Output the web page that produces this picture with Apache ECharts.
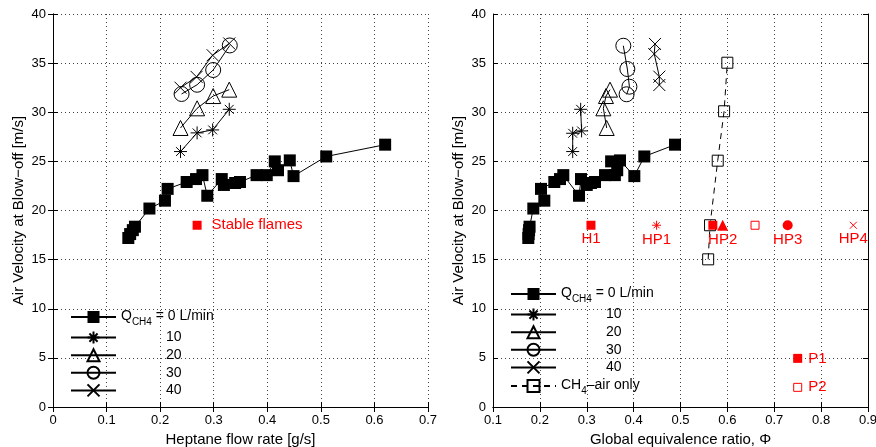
<!DOCTYPE html>
<html>
<head>
<meta charset="utf-8">
<script src="https://cdn.jsdelivr.net/npm/echarts@6/dist/echarts.min.js"></script>
<style>html,body{margin:0;padding:0;background:#fff}#c{width:876px;height:447px}</style>
</head>
<body>
<div id="c"></div>
<script>
// ---------- data ----------
// Left panel: heptane flow rate [g/s]; right panel: global equivalence ratio
const velQ0 = [17.2,17.6,18.0,18.35,20.2,21.0,22.2,22.9,23.2,23.6,21.5,23.2,22.6,22.8,22.9,23.6,23.6,25.0,24.1,25.1,23.5,25.5,26.7];
const heptQ0 = [0.1406,0.144,0.149,0.153,0.18,0.209,0.214,0.2495,0.267,0.279,0.288,0.315,0.319,0.34,0.349,0.38,0.399,0.414,0.42,0.442,0.449,0.51,0.62];
const phiQ0 = [0.1753,0.176,0.177,0.178,0.186,0.2095,0.2024,0.2308,0.243,0.25,0.2835,0.2877,0.300,0.309,0.3176,0.339,0.36,0.352,0.365,0.371,0.4015,0.4228,0.4883];

const heptQ10 = [0.238,0.269,0.298,0.329];
const velQ10L = [26.0,27.9,28.2,30.3];
const phiQ10 = [0.27,0.27,0.289,0.287];
const velQ10R = [26.0,27.86,28.1,30.3];

const heptQ20 = [0.238,0.269,0.299,0.329];
const velQ20 = [28.4,30.4,31.65,32.3];
const phiQ20 = [0.3425,0.3354,0.341,0.3496];

const heptQ30 = [0.24,0.269,0.299,0.33];
const velQ30L = [31.86,32.8,34.3,36.8];
const phiQ30 = [0.385,0.391,0.3866,0.378];
const velQ30R = [31.83,32.6,34.4,36.77];

const heptQ40 = [0.238,0.268,0.298,0.329];
const velQ40L = [32.5,33.6,35.8,37.0];
const phiQ40 = [0.4548,0.4548,0.444,0.4456];
const velQ40R = [32.77,33.62,35.93,36.95];

const phiCH4 = [0.559,0.563,0.5794,0.593,0.5999];
const velCH4 = [15.03,18.5,25.07,30.1,35.04];

const stableHept = [0.269];
const stableVel = [18.5];
const stableText = ['Stable flames'];

const markPhi = [0.309,0.449,0.569,0.59,0.659,0.7286,0.8687,0.75,0.75];
const markVel = [18.5,18.5,18.5,18.5,18.5,18.5,18.5,4.95,2.0];
const markNames = ['H1','HP1','','HP2','','HP3','HP4','P1','P2'];

const legendLabels = ['Q_CH4 = 0 L/min','10','20','30','40','CH4–air only'];

const leftTicksX = [0,0.1,0.2,0.3,0.4,0.5,0.6,0.7];
const rightTicksX = [0.1,0.2,0.3,0.4,0.5,0.6,0.7,0.8,0.9];
const ticksY = [0,5,10,15,20,25,30,35,40];

// ---------- styles ----------
const FONT = 'Liberation Sans, Arial, Helvetica, sans-serif';
const ASTER = 'path://M0,5L10,5M5,0L5,10M1.6,1.6L8.4,8.4M1.6,8.4L8.4,1.6';
const CROSS = 'path://M0,0L10,10M0,10L10,0';
const RED = '#ff0000';
const zip = (xs, ys) => xs.map((x, i) => [x, ys[i]]);

const openStyle = {color: 'rgba(0,0,0,0)', borderColor: '#000', borderWidth: 1};
const strokeStyle = {color: 'rgba(0,0,0,0)', borderColor: '#000', borderWidth: 1};
function lineSeries(name, idx, data, symbol, size, itemStyle, dashed) {
  return {
    name, type: 'line', xAxisIndex: idx, yAxisIndex: idx, data,
    symbol, symbolSize: size, showSymbol: true, showAllSymbol: true,
    itemStyle, lineStyle: {color: '#000', width: 1, type: dashed ? [6, 5] : 'solid'},
    emphasis: {disabled: true}, z: 3
  };
}

const gridL = {left: 53, top: 14, width: 375, height: 393, containLabel: false, outerBoundsMode: 'none'};
const gridR = {left: 493, top: 14, width: 375, height: 393, containLabel: false, outerBoundsMode: 'none'};

function xAxisBottom(gi, min, max, name, ticks) {
  return {
    type: 'value', gridIndex: gi, min, max, interval: 0.1, position: 'bottom',
    name, nameLocation: 'middle', nameGap: 22,
    nameTextStyle: {fontFamily: FONT, fontSize: 15, color: '#000'},
    axisLine: {show: true, lineStyle: {color: '#000', width: 1}},
    axisTick: {show: true, inside: true, length: 5, lineStyle: {color: '#000'}},
    axisLabel: {margin: 7, fontFamily: FONT, fontSize: 13, color: '#000',
      formatter: v => { const t = ticks.find(k => Math.abs(k - v) < 1e-6); return t === undefined ? '' : (t === 0 ? '0' : t.toFixed(1)); }},
    splitLine: {show: true, lineStyle: {color: '#444', width: 1, type: [1, 3]}}
  };
}
function xAxisTop(gi, min, max) {
  return {
    type: 'value', gridIndex: gi, min, max, interval: 0.1, position: 'top',
    axisLine: {show: true, lineStyle: {color: '#000', width: 1}},
    axisTick: {show: true, inside: true, length: 5, lineStyle: {color: '#000'}},
    axisLabel: {show: false}, splitLine: {show: false}
  };
}
function yAxisLeft(gi) {
  return {
    type: 'value', gridIndex: gi, min: 0, max: 40, interval: 5, position: 'left',
    name: 'Air Velocity at Blow−off [m/s]', nameLocation: 'middle', nameGap: 27, nameRotate: 90,
    nameTextStyle: {fontFamily: FONT, fontSize: 15, color: '#000'},
    axisLine: {show: true, lineStyle: {color: '#000', width: 1}},
    axisTick: {show: true, inside: true, length: 5, lineStyle: {color: '#000'}},
    axisLabel: {margin: 7, fontFamily: FONT, fontSize: 13, color: '#000',
      formatter: v => ticksY.includes(v) ? String(v) : ''},
    splitLine: {show: true, lineStyle: {color: '#444', width: 1, type: [1, 3]}}
  };
}
function yAxisRight(gi) {
  return {
    type: 'value', gridIndex: gi, min: 0, max: 40, interval: 5, position: 'right',
    axisLine: {show: true, lineStyle: {color: '#000', width: 1}},
    axisTick: {show: true, inside: true, length: 5, lineStyle: {color: '#000'}},
    axisLabel: {show: false}, splitLine: {show: false}
  };
}

const rich = {
  a: {fontFamily: FONT, fontSize: 14, color: '#000', lineHeight: 16, verticalAlign: 'top'},
  s: {fontFamily: FONT, fontSize: 10, color: '#000', lineHeight: 11, padding: [8, 0, 0, 0], verticalAlign: 'top'},
  n: {fontFamily: FONT, fontSize: 14, color: '#000', lineHeight: 16, padding: [0, 0, 0, 45]}
};
function legendFmt(name) {
  const key = name.slice(1);
  if (key === '0') return '{a|Q}{s|CH4}{a| = 0 L/min}';
  if (key === 'CH4') return '{a|CH}{s|4}{a|–air only}';
  const i = ['10','20','30','40'].indexOf(key);
  return '{n|' + legendLabels[i + 1] + '}';
}

const series = [
  lineSeries('L0', 0, zip(heptQ0, velQ0), 'rect', 12, {color: '#000'}),
  lineSeries('L10', 0, zip(heptQ10, velQ10L), ASTER, 13, strokeStyle),
  lineSeries('L20', 0, zip(heptQ20, velQ20), 'triangle', 15, openStyle),
  lineSeries('L30', 0, zip(heptQ30, velQ30L), 'circle', 15, openStyle),
  lineSeries('L40', 0, zip(heptQ40, velQ40L), CROSS, 12, strokeStyle),
  lineSeries('R0', 1, zip(phiQ0, velQ0), 'rect', 12, {color: '#000'}),
  lineSeries('R10', 1, zip(phiQ10, velQ10R), ASTER, 13, strokeStyle),
  lineSeries('R20', 1, zip(phiQ20, velQ20), 'triangle', 15, openStyle),
  lineSeries('R30', 1, zip(phiQ30, velQ30R), 'circle', 15, openStyle),
  lineSeries('R40', 1, zip(phiQ40, velQ40R), CROSS, 12, strokeStyle),
  lineSeries('RCH4', 1, zip(phiCH4, velCH4), 'rect', 11, openStyle, true),
  {
    name: 'stable', type: 'scatter', xAxisIndex: 0, yAxisIndex: 0,
    data: stableHept.map((x, i) => ({value: [x, stableVel[i]], name: stableText[i]})),
    symbol: 'rect', symbolSize: 9, itemStyle: {color: RED, opacity: 1},
    label: {show: true, position: 'right', distance: 10, formatter: p => p.name,
      fontFamily: FONT, fontSize: 15, color: RED, opacity: 1},
    emphasis: {disabled: true}, z: 4
  }
];

// red operating-point markers (styles kept here, values in arrays above)
const markSymbols = ['rect', ASTER, 'rect', 'triangle', 'rect', 'circle', CROSS, 'rect', 'rect'];
const markSizes = [9, 9, 9, 11, 8, 10, 7, 9, 8];
const markFilled = [true, false, true, true, false, true, false, true, false];
const markLabelPos = ['bottom','bottom','bottom','bottom','bottom','bottom','bottom','right','right'];
series.push({
  name: 'marks', type: 'scatter', xAxisIndex: 1, yAxisIndex: 1,
  data: markPhi.map((x, i) => ({
    value: [x, markVel[i]], name: markNames[i],
    symbol: markSymbols[i], symbolSize: markSizes[i],
    itemStyle: markFilled[i] ? {color: RED, opacity: 1} : {color: 'rgba(0,0,0,0)', borderColor: RED, borderWidth: 1, opacity: 1},
    label: {position: markLabelPos[i], distance: markLabelPos[i] === 'right' ? 6 : 2}
  })),
  label: {show: true, formatter: p => p.name, fontFamily: FONT, fontSize: 15, color: RED, opacity: 1},
  emphasis: {disabled: true}, z: 4
});

const chart = echarts.init(document.getElementById('c'), null, {renderer: 'canvas'});
chart.setOption({
  animation: false,
  backgroundColor: '#fff',
  grid: [gridL, gridR],
  xAxis: [
    xAxisBottom(0, 0, 0.7, 'Heptane flow rate [g/s]', leftTicksX),
    xAxisBottom(1, 0.1, 0.9, 'Global equivalence ratio, Φ', rightTicksX),
    xAxisTop(0, 0, 0.7), xAxisTop(1, 0.1, 0.9)
  ],
  yAxis: [yAxisLeft(0), yAxisLeft(1), yAxisRight(0), yAxisRight(1)],
  legend: [
    {data: ['L0','L10','L20','L30','L40'], orient: 'vertical', left: 65, top: 304,
     itemWidth: 45, itemHeight: 15, itemGap: 3.6, selectedMode: false,
     formatter: legendFmt, textStyle: {rich}},
    {data: ['R0','R10','R20','R30','R40','RCH4'], orient: 'vertical', left: 505, top: 281,
     itemWidth: 45, itemHeight: 15, itemGap: 3.6, selectedMode: false,
     formatter: legendFmt, textStyle: {rich}}
  ],
  series
});
</script>
</body>
</html>
